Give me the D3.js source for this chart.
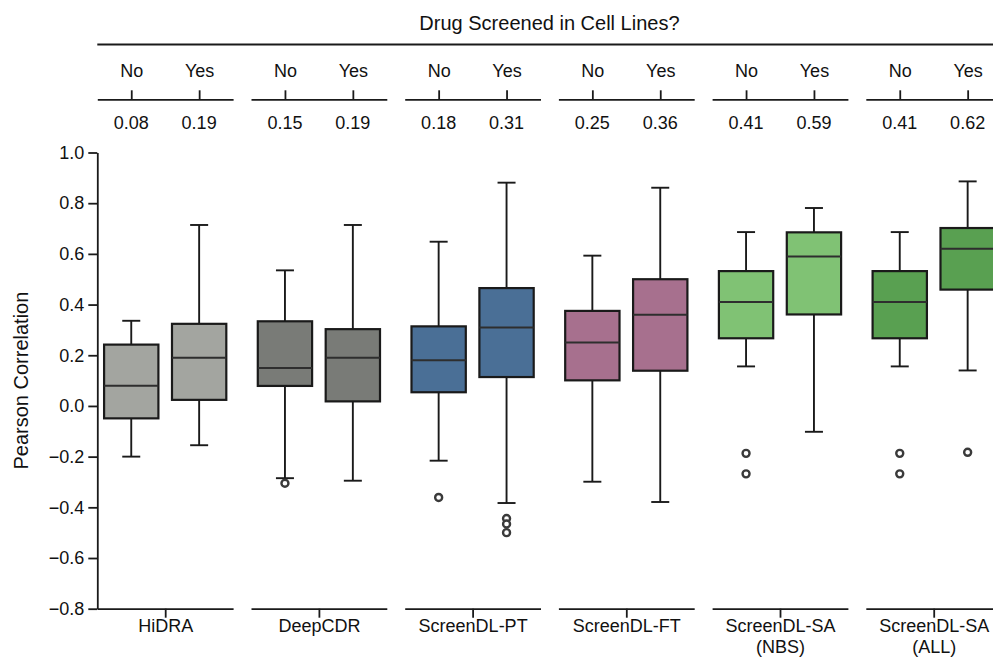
<!DOCTYPE html>
<html>
<head>
<meta charset="utf-8">
<script src="https://cdn.jsdelivr.net/npm/d3@7"></script>
<style>
  html, body { margin: 0; padding: 0; background: #fff; }
  svg { display: block; font-family: "Liberation Sans", Arial, sans-serif; }
</style>
</head>
<body>
<svg id="chart" width="993" height="668"></svg>
<script>
// Models compared, one panel each
const models = ["HiDRA", "DeepCDR", "ScreenDL-PT", "ScreenDL-FT", "ScreenDL-SA (NBS)", "ScreenDL-SA (ALL)"];
const modelLabels = [["HiDRA"], ["DeepCDR"], ["ScreenDL-PT"], ["ScreenDL-FT"], ["ScreenDL-SA", "(NBS)"], ["ScreenDL-SA", "(ALL)"]];
const screened = ["No", "Yes"];
const modelColors = ["#a3a5a0", "#797b77", "#4a6f96", "#a7708e", "#80c274", "#59a051"];

// Box statistics per model, [No, Yes]
const whiskerLow = [[-0.200, -0.155], [-0.285, -0.295], [-0.216, -0.383], [-0.299, -0.379], [0.156, -0.102], [0.156, 0.140]];
const q1 =         [[-0.049,  0.024], [ 0.079,  0.018], [ 0.054,  0.114], [ 0.101,  0.139], [0.267,  0.361], [0.267, 0.459]];
const medians =    [[ 0.08,   0.19 ], [ 0.15,   0.19 ], [ 0.18,   0.31 ], [ 0.25,   0.36 ], [0.41,   0.59 ], [0.41,  0.62 ]];
const q3 =         [[ 0.242,  0.324], [ 0.334,  0.303], [ 0.314,  0.465], [ 0.375,  0.500], [0.532,  0.685], [0.532, 0.702]];
const whiskerHigh =[[ 0.336,  0.714], [ 0.535,  0.714], [ 0.648,  0.881], [ 0.593,  0.861], [0.686,  0.781], [0.686, 0.886]];
const outliers =   [[[], []], [[-0.305], []], [[-0.361], [-0.444, -0.466, -0.500]], [[], []], [[-0.187, -0.268], []], [[-0.187, -0.268], [-0.183]]];

const yTicks = [-0.8, -0.6, -0.4, -0.2, 0.0, 0.2, 0.4, 0.6, 0.8, 1.0];

const svg = d3.select("#chart");
const FONT = 18;
const ink = "#1a1a1a";

const y = d3.scaleLinear().domain([-0.8, 1.0]).range([608.7, 152.5]);

const panel = d3.scaleBand()
  .domain(models)
  .range([97.3, 1001.6])
  .paddingInner(0.1165)
  .paddingOuter(0);
const bw = panel.bandwidth();

const inner = d3.scalePoint().domain(screened).range([0, bw]).padding(0.5);
const boxW = inner.step() * 0.8;
const capW = 18;

function styleAxis(g) {
  g.selectAll(".domain").attr("stroke", ink).attr("stroke-width", 1.8);
  g.selectAll(".tick line").attr("stroke", ink).attr("stroke-width", 1.8);
  g.selectAll(".tick text").attr("fill", "#111").attr("font-size", FONT).attr("font-family", null);
}

// Y axis
const yAxisG = svg.append("g")
  .attr("transform", `translate(${panel.range()[0]},0)`)
  .call(d3.axisLeft(y).tickValues(yTicks).tickFormat(d3.format(".1f")).tickSize(9).tickPadding(4).tickSizeOuter(0));
styleAxis(yAxisG);

svg.append("text")
  .attr("transform", `translate(27.5,${(y(1.0) + y(-0.8)) / 2}) rotate(-90)`)
  .attr("text-anchor", "middle")
  .attr("font-size", 20)
  .attr("fill", "#111")
  .text("Pearson Correlation");

// Top title and its rule
const [x0, x1] = panel.range();
svg.append("text")
  .attr("x", (x0 + x1) / 2)
  .attr("y", 30)
  .attr("text-anchor", "middle")
  .attr("font-size", 20)
  .attr("fill", "#111")
  .text("Drug Screened in Cell Lines?");
svg.append("line")
  .attr("x1", x0).attr("x2", x1)
  .attr("y1", 44.5).attr("y2", 44.5)
  .attr("stroke", ink).attr("stroke-width", 1.8);

models.forEach((m, i) => {
  const g = svg.append("g").attr("transform", `translate(${panel(m)},0)`);

  // Bottom axis: one tick per model
  const single = d3.scalePoint().domain([m]).range([0, bw]).padding(0.5);
  const bAxis = g.append("g")
    .attr("transform", `translate(0,${y(-0.8)})`)
    .call(d3.axisBottom(single).tickSize(9).tickPadding(14).tickSizeOuter(0));
  styleAxis(bAxis);
  bAxis.selectAll(".tick text").each(function () {
    const t = d3.select(this).text("");
    modelLabels[i].forEach((line, k) => {
      t.append("tspan").attr("x", 0).attr("dy", k === 0 ? 0 : "1.17em").text(line);
    });
  });

  // Top axis: No / Yes
  const tAxis = g.append("g")
    .attr("transform", "translate(0,99.3)")
    .call(d3.axisTop(inner).tickSize(9).tickPadding(13).tickSizeOuter(0));
  styleAxis(tAxis);

  // Median values under the top axis
  g.selectAll("text.med")
    .data(screened)
    .join("text")
    .attr("class", "med")
    .attr("x", d => inner(d))
    .attr("y", 129)
    .attr("text-anchor", "middle")
    .attr("font-size", FONT)
    .attr("fill", "#111")
    .text((d, j) => d3.format(".2f")(medians[i][j]));

  // Boxes
  screened.forEach((s, j) => {
    const cx = inner(s);
    const b = g.append("g");
    // whiskers
    b.append("line")
      .attr("x1", cx).attr("x2", cx)
      .attr("y1", y(q3[i][j])).attr("y2", y(whiskerHigh[i][j]))
      .attr("stroke", ink).attr("stroke-width", 1.9);
    b.append("line")
      .attr("x1", cx).attr("x2", cx)
      .attr("y1", y(q1[i][j])).attr("y2", y(whiskerLow[i][j]))
      .attr("stroke", ink).attr("stroke-width", 1.9);
    [whiskerHigh[i][j], whiskerLow[i][j]].forEach(v => {
      b.append("line")
        .attr("x1", cx - capW / 2).attr("x2", cx + capW / 2)
        .attr("y1", y(v)).attr("y2", y(v))
        .attr("stroke", ink).attr("stroke-width", 1.9);
    });
    // box
    b.append("rect")
      .attr("x", cx - boxW / 2)
      .attr("width", boxW)
      .attr("y", y(q3[i][j]))
      .attr("height", y(q1[i][j]) - y(q3[i][j]))
      .attr("fill", modelColors[i])
      .attr("stroke", ink)
      .attr("stroke-width", 2.2);
    // median
    b.append("line")
      .attr("x1", cx - boxW / 2).attr("x2", cx + boxW / 2)
      .attr("y1", y(medians[i][j])).attr("y2", y(medians[i][j]))
      .attr("stroke", "#2e2e2e").attr("stroke-width", 2);
    // fliers
    b.selectAll("circle")
      .data(outliers[i][j])
      .join("circle")
      .attr("cx", cx)
      .attr("cy", d => y(d))
      .attr("r", 3.5)
      .attr("fill", "#fff")
      .attr("stroke", "#3a3a3a")
      .attr("stroke-width", 2.4);
  });
});
</script>
</body>
</html>
